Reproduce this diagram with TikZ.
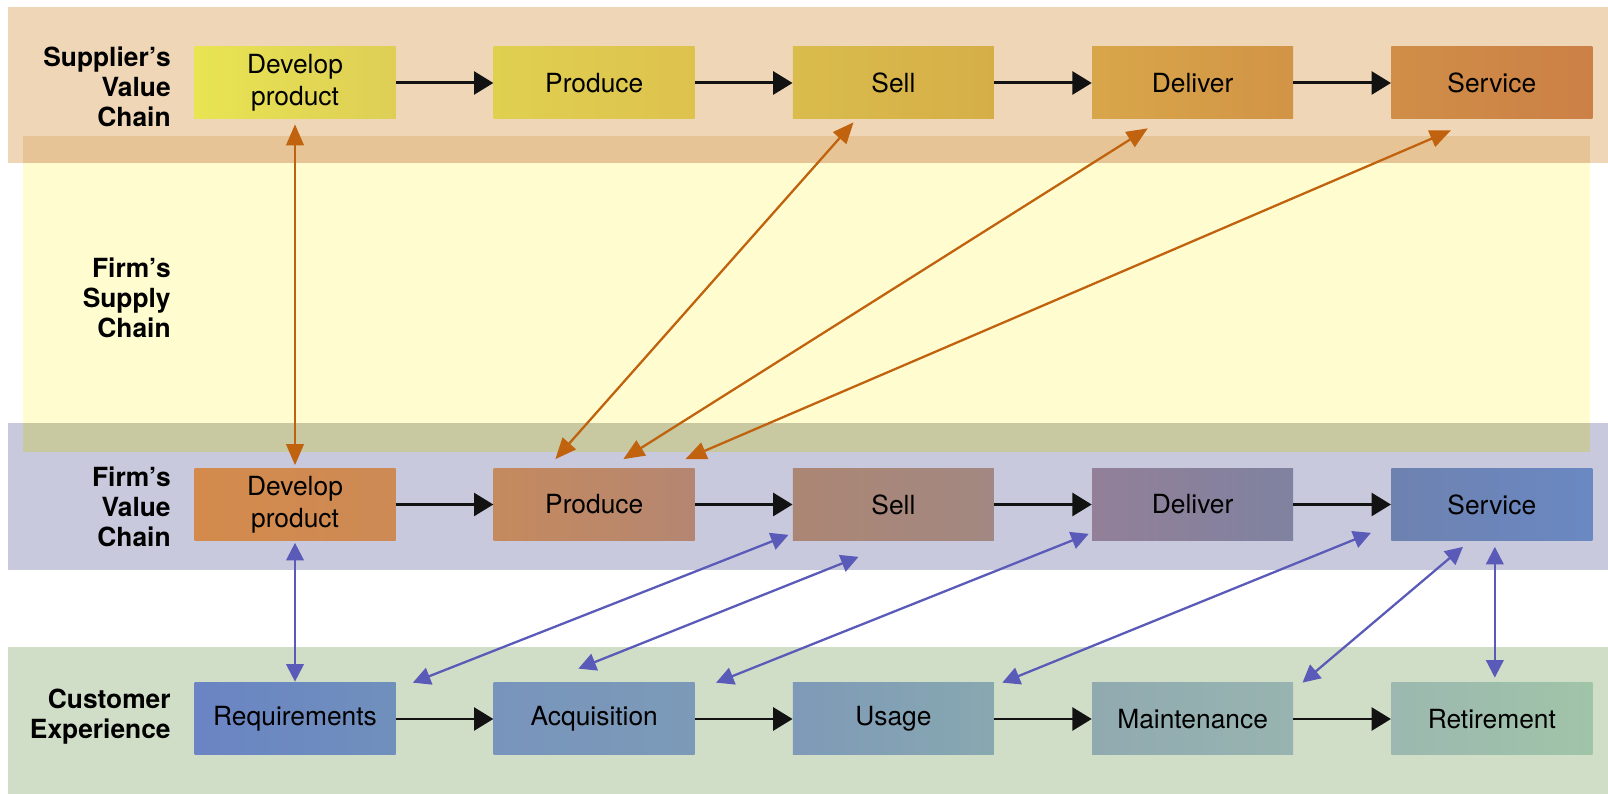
\documentclass[tikz,border=0pt]{standalone}
\usepackage{fontspec}
\setmainfont{TeX Gyre Heros}
\usepackage{tikz}
\usetikzlibrary{positioning}
\usetikzlibrary{arrows.meta}
\usetikzlibrary{calc}

\definecolor{bandtan}{HTML}{EFD6B6}
\definecolor{bandtandark}{HTML}{E6C496}
\definecolor{bandyellow}{HTML}{FFFDD0}
\definecolor{bandlav}{HTML}{C9C9DD}
\definecolor{bandolive}{HTML}{C8C9A1}
\definecolor{bandgreen}{HTML}{D0DEC8}
\definecolor{linkorange}{HTML}{C0620E}
\definecolor{linkblue}{HTML}{5A5AB8}

\begin{document}
\begin{tikzpicture}[
node distance=1.95cm,
stepbox/.style={rectangle, minimum width=4.02cm, minimum height=1.44cm, inner sep=0pt,
  align=center, font=\fontsize{15}{18}\selectfont},
rowlabel/.style={anchor=east, align=right, inner xsep=0pt, font=\fontsize{15}{17}\selectfont\bfseries},
flow/.style={-{Triangle[length=11pt,width=13pt]}, line width=1.7pt, black!93},
supplink/.style={{Triangle[length=12pt,width=10pt]}-{Triangle[length=12pt,width=10pt]}, line width=1.3pt, linkorange},
custlink/.style={{Triangle[length=10pt,width=10pt]}-{Triangle[length=10pt,width=10pt]}, line width=1.3pt, linkblue}
]
\useasboundingbox (0,0) rectangle (32.16,15.88);

%Bands
\fill[bandtan]    (0.16,15.74) rectangle (32.16,12.62);
\fill[bandyellow] (0.46,12.62) rectangle (31.80,7.42);
\fill[bandtandark] (0.46,13.16) rectangle (31.80,12.62);
\fill[bandlav]    (0.16,7.42) rectangle (32.16,4.48);
\fill[bandolive]  (0.46,7.42) rectangle (31.80,6.84);
\fill[bandgreen]  (0.16,2.94) rectangle (32.16,0);

%Row labels
\node[rowlabel] (lsup)  at (3.42,14.14) {Supplier's\\Value\\Chain};
\node[rowlabel] (lsc)   at (3.42,9.92)  {Firm's\\Supply\\Chain};
\node[rowlabel] (lfirm) at (3.42,5.74)  {Firm's\\Value\\Chain};
\node[rowlabel] (lcust) at (3.42,1.54)  {Customer\\Experience};

%Nodes
\node[stepbox, left color={rgb,255:red,232;green,228;blue,82}, right color={rgb,255:red,222;green,206;blue,86}] (sdev) at (5.9,14.22) {Develop\\product};
\node[stepbox, left color={rgb,255:red,223;green,208;blue,80}, right color={rgb,255:red,222;green,194;blue,78}] (sprod) [right=of sdev]  {Produce};
\node[stepbox, left color={rgb,255:red,217;green,188;blue,76}, right color={rgb,255:red,214;green,174;blue,72}] (ssell) [right=of sprod] {Sell};
\node[stepbox, left color={rgb,255:red,216;green,166;blue,74}, right color={rgb,255:red,210;green,148;blue,70}] (sdel)  [right=of ssell] {Deliver};
\node[stepbox, left color={rgb,255:red,208;green,142;blue,72}, right color={rgb,255:red,204;green,128;blue,70}] (sserv) [right=of sdel]  {Service};

\node[stepbox, left color={rgb,255:red,212;green,138;blue,76}, right color={rgb,255:red,205;green,138;blue,85}] (fdev) at (5.9,5.79) {Develop\\product};
\node[stepbox, left color={rgb,255:red,197;green,138;blue,94}, right color={rgb,255:red,180;green,134;blue,114}] (fprod) [right=of fdev]  {Produce};
\node[stepbox, left color={rgb,255:red,172;green,134;blue,116}, right color={rgb,255:red,162;green,136;blue,130}] (fsell) [right=of fprod] {Sell};
\node[stepbox, left color={rgb,255:red,147;green,128;blue,152}, right color={rgb,255:red,127;green,130;blue,160}] (fdel)  [right=of fsell] {Deliver};
\node[stepbox, left color={rgb,255:red,110;green,130;blue,176}, right color={rgb,255:red,106;green,136;blue,194}] (fserv) [right=of fdel]  {Service};

\node[stepbox, left color={rgb,255:red,106;green,132;blue,196}, right color={rgb,255:red,112;green,144;blue,188}] (creq) at (5.9,1.5) {Requirements};
\node[stepbox, left color={rgb,255:red,120;green,148;blue,188}, right color={rgb,255:red,124;green,154;blue,184}] (cacq)   [right=of creq]  {Acquisition};
\node[stepbox, left color={rgb,255:red,126;green,154;blue,184}, right color={rgb,255:red,136;green,168;blue,176}] (cuse)   [right=of cacq]  {Usage};
\node[stepbox, left color={rgb,255:red,144;green,170;blue,176}, right color={rgb,255:red,152;green,180;blue,176}] (cmaint) [right=of cuse]  {Maintenance};
\node[stepbox, left color={rgb,255:red,156;green,184;blue,176}, right color={rgb,255:red,160;green,196;blue,168}] (cret)   [right=of cmaint] {Retirement};

%Lines
\draw[flow] (sdev.east) -- (sprod.west);
\draw[flow] (sprod.east) -- (ssell.west);
\draw[flow] (ssell.east) -- (sdel.west);
\draw[flow] (sdel.east) -- (sserv.west);

\draw[flow] (fdev.east) -- (fprod.west);
\draw[flow] (fprod.east) -- (fsell.west);
\draw[flow] (fsell.east) -- (fdel.west);
\draw[flow] (fdel.east) -- (fserv.west);

\draw[flow] (creq.east) -- (cacq.west);
\draw[flow] (cacq.east) -- (cuse.west);
\draw[flow] (cuse.east) -- (cmaint.west);
\draw[flow] (cmaint.east) -- (cret.west);

% supplier links
\draw[supplink] ([yshift=-0.1cm]sdev.south) -- ([yshift=0.06cm]fdev.north);
\draw[supplink] ($(fprod.north west)+(1.24,0.18)$) -- ($(ssell.south west)+(1.22,-0.06)$);
\draw[supplink] ($(fprod.north west)+(2.6,0.18)$) -- ($(sdel.south west)+(1.12,-0.18)$);
\draw[supplink] ($(fprod.north west)+(3.84,0.18)$) -- ($(sserv.south west)+(1.2,-0.22)$);

% customer links
\draw[custlink] ([yshift=-0.04cm]fdev.south) -- ([yshift=0.02cm]creq.north);
\draw[custlink] ($(creq.north east)+(0.34,0)$) -- ($(fsell.south west)+(-0.08,0.12)$);
\draw[custlink] ($(cacq.north west)+(1.7,0.28)$) -- ($(fsell.south west)+(1.32,-0.32)$);
\draw[custlink] ($(cacq.north east)+(0.42,0)$) -- ($(fdel.south west)+(-0.06,0.14)$);
\draw[custlink] ($(cuse.north east)+(0.16,0)$) -- ($(fserv.south west)+(-0.4,0.16)$);
\draw[custlink] ($(cmaint.north east)+(0.18,0)$) -- ($(fserv.south west)+(1.44,-0.12)$);
\draw[custlink] ([xshift=0.06cm,yshift=-0.12cm]fserv.south) -- ([xshift=0.06cm,yshift=0.1cm]cret.north);

\end{tikzpicture}
\end{document}
